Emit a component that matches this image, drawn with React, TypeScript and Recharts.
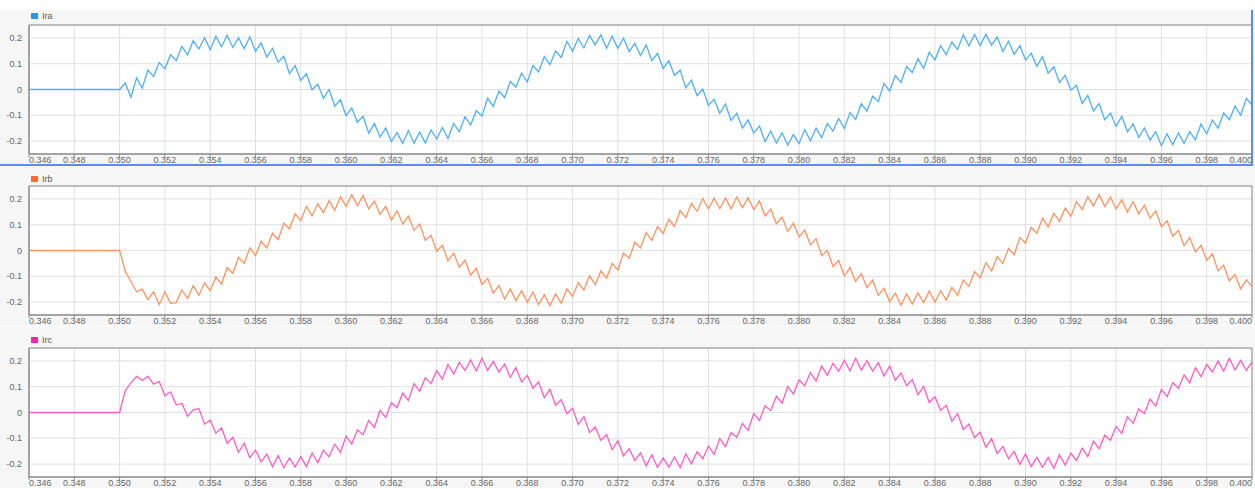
import React from 'react';
import { LineChart, Line, XAxis, YAxis, CartesianGrid, ReferenceArea } from 'recharts';

// sampling grid of the recorded currents (s)
const START = 0.35;
const STEP = 0.00025;
const PRE_START = 0.346;

const X_TICKS = [
  0.346, 0.348, 0.35, 0.352, 0.354, 0.356, 0.358, 0.36, 0.362, 0.364, 0.366, 0.368, 0.37, 0.372,
  0.374, 0.376, 0.378, 0.38, 0.382, 0.384, 0.386, 0.388, 0.39, 0.392, 0.394, 0.396, 0.398, 0.4,
];
const Y_TICKS = [-0.2, -0.1, 0, 0.1, 0.2];

const IRA = [
  0, 0.025, -0.03, 0.045, 0.005, 0.075, 0.05, 0.105, 0.08, 0.135,
  0.112, 0.167, 0.134, 0.189, 0.157, 0.201, 0.154, 0.206, 0.166, 0.21,
  0.163, 0.2, 0.159, 0.204, 0.148, 0.181, 0.126, 0.159, 0.106, 0.129,
  0.062, 0.093, 0.035, 0.061, -0.001, 0.021, -0.034, 0, -0.065, -0.04,
  -0.101, -0.072, -0.127, -0.104, -0.169, -0.132, -0.184, -0.149, -0.202, -0.167,
  -0.209, -0.159, -0.208, -0.165, -0.207, -0.157, -0.192, -0.147, -0.19, -0.132,
  -0.163, -0.106, -0.137, -0.082, -0.103, -0.034, -0.065, -0.006, -0.032, 0.031,
  0.009, 0.063, 0.029, 0.093, 0.068, 0.127, 0.096, 0.149, 0.124, 0.187,
  0.148, 0.198, 0.161, 0.21, 0.173, 0.212, 0.16, 0.206, 0.16, 0.199,
  0.147, 0.179, 0.132, 0.173, 0.112, 0.14, 0.082, 0.111, 0.055, 0.075,
  0.006, 0.036, -0.024, 0.002, -0.061, -0.038, -0.092, -0.056, -0.12, -0.092,
  -0.15, -0.118, -0.169, -0.142, -0.202, -0.161, -0.208, -0.168, -0.215, -0.175,
  -0.21, -0.155, -0.199, -0.15, -0.186, -0.132, -0.161, -0.112, -0.151, -0.089,
  -0.116, -0.055, -0.084, -0.026, -0.046, 0.024, -0.006, 0.054, 0.027, 0.089,
  0.066, 0.119, 0.082, 0.144, 0.115, 0.17, 0.135, 0.184, 0.155, 0.212,
  0.169, 0.213, 0.17, 0.214, 0.172, 0.204, 0.147, 0.187, 0.136, 0.17,
  0.114, 0.141, 0.09, 0.127, 0.063, 0.088, 0.027, 0.055, -0.003, 0.016,
  -0.054, -0.023, -0.083, -0.055, -0.117, -0.092, -0.143, -0.104, -0.164, -0.133,
  -0.186, -0.149, -0.196, -0.163, -0.218, -0.172, -0.214, -0.168, -0.209, -0.164,
  -0.194, -0.134, -0.172, -0.119, -0.15, -0.091, -0.117, -0.064, -0.1, -0.035,
  -0.06,
];

const IRB = [
  0, -0.08, -0.12, -0.16, -0.15, -0.19, -0.16, -0.21, -0.16, -0.205,
  -0.202, -0.153, -0.186, -0.136, -0.174, -0.125, -0.156, -0.102, -0.13, -0.066,
  -0.088, -0.027, -0.05, 0.01, -0.02, 0.036, 0.01, 0.067, 0.042, 0.106,
  0.084, 0.142, 0.116, 0.171, 0.134, 0.182, 0.146, 0.193, 0.156, 0.208,
  0.172, 0.216, 0.174, 0.213, 0.161, 0.192, 0.14, 0.171, 0.118, 0.154,
  0.103, 0.133, 0.078, 0.103, 0.039, 0.059, -0.002, 0.02, -0.04, -0.01,
  -0.065, -0.038, -0.095, -0.069, -0.132, -0.108, -0.165, -0.136, -0.188, -0.149,
  -0.195, -0.156, -0.201, -0.161, -0.21, -0.171, -0.213, -0.168, -0.205, -0.149,
  -0.178, -0.124, -0.153, -0.098, -0.132, -0.079, -0.107, -0.05, -0.075, -0.01,
  -0.03, 0.032, 0.01, 0.069, 0.039, 0.093, 0.066, 0.121, 0.093, 0.154,
  0.128, 0.183, 0.152, 0.202, 0.161, 0.203, 0.162, 0.204, 0.162, 0.208,
  0.166, 0.205, 0.158, 0.192, 0.134, 0.161, 0.104, 0.13, 0.074, 0.106,
  0.052, 0.079, 0.022, 0.046, -0.02, 0, -0.062, -0.039, -0.098, -0.066,
  -0.12, -0.09, -0.144, -0.115, -0.174, -0.146, -0.198, -0.165, -0.212, -0.168,
  -0.208, -0.164, -0.202, -0.157, -0.201, -0.156, -0.192, -0.143, -0.174, -0.114,
  -0.139, -0.081, -0.106, -0.047, -0.079, -0.023, -0.05, 0.008, -0.016, 0.05,
  0.029, 0.09, 0.067, 0.125, 0.092, 0.144, 0.113, 0.164, 0.132, 0.189,
  0.159, 0.208, 0.173, 0.217, 0.17, 0.207, 0.161, 0.196, 0.149, 0.189,
  0.142, 0.176, 0.125, 0.154, 0.092, 0.115, 0.055, 0.078, 0.019, 0.05,
  -0.006, 0.02, -0.038, -0.013, -0.079, -0.057, -0.118, -0.093, -0.149, -0.114,
  -0.14,
];

const IRC = [
  0, 0.085, 0.115, 0.14, 0.125, 0.14, 0.11, 0.12, 0.065, 0.08,
  0.03, 0.035, -0.015, 0.01, 0.015, -0.045, -0.03, -0.08, -0.06, -0.119,
  -0.096, -0.154, -0.119, -0.175, -0.146, -0.191, -0.161, -0.21, -0.167, -0.214,
  -0.176, -0.211, -0.171, -0.21, -0.157, -0.194, -0.146, -0.172, -0.123, -0.154,
  -0.092, -0.122, -0.067, -0.086, -0.031, -0.058, 0.008, -0.019, 0.038, 0.019,
  0.075, 0.047, 0.112, 0.082, 0.135, 0.112, 0.162, 0.129, 0.186, 0.149,
  0.195, 0.163, 0.204, 0.162, 0.21, 0.163, 0.198, 0.157, 0.188, 0.136,
  0.174, 0.118, 0.144, 0.094, 0.118, 0.058, 0.09, 0.028, 0.05, -0.004,
  0.016, -0.046, -0.016, -0.078, -0.056, -0.108, -0.086, -0.144, -0.11, -0.168,
  -0.14, -0.186, -0.156, -0.207, -0.164, -0.213, -0.176, -0.212, -0.172, -0.213,
  -0.161, -0.199, -0.152, -0.179, -0.13, -0.162, -0.101, -0.132, -0.078, -0.097,
  -0.043, -0.069, -0.004, -0.031, 0.026, 0.008, 0.063, 0.036, 0.101, 0.072,
  0.126, 0.104, 0.155, 0.122, 0.18, 0.144, 0.191, 0.16, 0.203, 0.161,
  0.21, 0.164, 0.201, 0.16, 0.193, 0.141, 0.18, 0.125, 0.153, 0.104,
  0.128, 0.069, 0.101, 0.039, 0.061, 0.008, 0.028, -0.034, -0.004, -0.066,
  -0.045, -0.097, -0.076, -0.135, -0.101, -0.159, -0.132, -0.179, -0.15, -0.202,
  -0.161, -0.21, -0.174, -0.212, -0.174, -0.216, -0.164, -0.204, -0.158, -0.186,
  -0.138, -0.171, -0.11, -0.141, -0.088, -0.108, -0.054, -0.081, -0.016, -0.043,
  0.014, -0.004, 0.052, 0.025, 0.09, 0.061, 0.116, 0.094, 0.146, 0.115,
  0.174, 0.139, 0.186, 0.157, 0.2, 0.16, 0.21, 0.165, 0.202, 0.163,
  0.197,
];

const buildRows = (values: number[]) => [
  { t: PRE_START, v: 0 },
  ...values.map((v, k) => ({ t: +(START + k * STEP).toFixed(5), v })),
];

const FONT = '"Liberation Sans", Arial, sans-serif';
const W = 1255;
const PLOT_H = 129;
const AXIS_H = 11;

const XTick = (props: any) => {
  const { x, y, payload } = props;
  const v = payload.value;
  const anchor = v === X_TICKS[0] ? 'start' : v === X_TICKS[X_TICKS.length - 1] ? 'end' : 'middle';
  return (
    <text x={x} y={y} dy="0.71em" textAnchor={anchor} fontSize={9} fill="#666">
      {v.toFixed(3)}
    </text>
  );
};

interface PanelProps {
  name: string;
  values: number[];
  color: string;
  swatch: string;
  top: number;
  padTop: number;
  legendTop: number;
}

const Panel: React.FC<PanelProps> = ({ name, values, color, swatch, top, padTop, legendTop }) => (
  <div style={{ position: 'absolute', left: 0, top, width: W, height: padTop + PLOT_H + AXIS_H, background: '#f6f6f6' }}>
    <div style={{ position: 'absolute', left: 31, top: legendTop, display: 'flex', alignItems: 'center', fontSize: 9, color: '#555', lineHeight: '10px' }}>
      <span style={{ display: 'inline-block', width: 7, height: 6, background: swatch, marginRight: 4 }} />
      <span>{name}</span>
    </div>
    <LineChart
      width={W}
      height={padTop + PLOT_H + AXIS_H}
      data={buildRows(values)}
      margin={{ top: padTop, right: 3, bottom: 0, left: 0 }}
    >
      <CartesianGrid stroke="#e0e0e0" fill="#fff" />
      <XAxis
        dataKey="t"
        type="number"
        domain={[PRE_START, 0.4]}
        ticks={X_TICKS}
        interval={0}
        height={AXIS_H}
        tickSize={3}
        tickMargin={0}
        stroke="#8c8c8c"
        tick={(p: any) => <XTick {...p} />}
      />
      <YAxis
        type="number"
        domain={[-0.25, 0.25]}
        ticks={Y_TICKS}
        width={29}
        tickLine={false}
        tickSize={3}
        tickMargin={4}
        stroke="#8c8c8c"
        tick={{ fontSize: 9, fill: '#666' }}
        tickFormatter={(v: number) => (v === 0 ? '0' : v.toFixed(1))}
      />
      <ReferenceArea x1={PRE_START} x2={0.4} y1={-0.25} y2={0.25} fill="none" stroke="#8c8c8c" strokeWidth={1} />
      <Line
        type="linear"
        dataKey="v"
        name={name}
        stroke={color}
        strokeWidth={1.3}
        dot={false}
        isAnimationActive={false}
      />
    </LineChart>
  </div>
);

export default function App() {
  return (
    <div style={{ position: 'absolute', left: 0, top: 0, width: W, height: 489, background: '#fff', fontFamily: FONT, overflow: 'hidden' }}>
      <Panel name="Ira" values={IRA} color="#4cb0fa" swatch="#1f98f5" top={10} padTop={15} legendTop={1} />
      <Panel name="Irb" values={IRB} color="#ff925f" swatch="#ff6a2b" top={166} padTop={20} legendTop={8} />
      <Panel name="Irc" values={IRC} color="#ff5cc6" swatch="#ff1fa8" top={327} padTop={21} legendTop={8} />
      {/* selected-panel outline */}
      <div style={{ position: 'absolute', left: 1251, top: 10, width: 2, height: 156, background: '#5b8cf5' }} />
      <div style={{ position: 'absolute', left: 0, top: 164, width: 1253, height: 2, background: '#5b8cf5' }} />
    </div>
  );
}
